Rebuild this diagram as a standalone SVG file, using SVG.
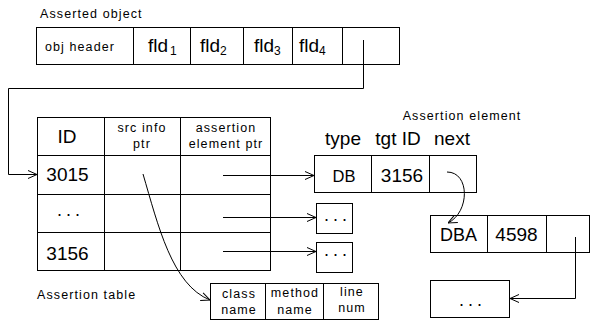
<svg xmlns="http://www.w3.org/2000/svg" width="590" height="324" viewBox="0 0 590 324">
<style>
.b{fill:#fff;stroke:#000;stroke-width:1}
.l{fill:none;stroke:#000;stroke-width:1}
.c{fill:none;stroke:#000;stroke-width:1;marker-end:url(#ah)}
text{font-family:"Liberation Sans",Arial,sans-serif;fill:#000}
.s{font-size:12.5px;letter-spacing:1.1px}
.m{font-size:19px}
.d{font-size:18px;letter-spacing:4px}
.t{text-anchor:middle}
</style>
<defs>
<marker id="ah" viewBox="0 0 10 10" refX="10" refY="5" markerWidth="10" markerHeight="10" markerUnits="userSpaceOnUse" orient="auto">
<polyline points="1,1 10,5 1,9" fill="none" stroke="#000" stroke-width="1"/>
</marker>
</defs>
<rect width="590" height="324" fill="#fff"/>

<g id="asserted-object">
<text x="40" y="18" class="s">Asserted object</text>
<rect class="b" x="36.5" y="27.5" width="363" height="37"/>
<line class="l" x1="133.5" y1="27.5" x2="133.5" y2="64.5"/>
<line class="l" x1="190.5" y1="27.5" x2="190.5" y2="64.5"/>
<line class="l" x1="243.5" y1="27.5" x2="243.5" y2="64.5"/>
<line class="l" x1="292.5" y1="27.5" x2="292.5" y2="64.5"/>
<line class="l" x1="342.5" y1="27.5" x2="342.5" y2="64.5"/>
<text x="80" y="51" class="s t">obj header</text>
<text x="148" y="52" class="m">fld<tspan font-size="12" dx="2" dy="2.5">1</tspan></text>
<text x="200" y="52" class="m">fld<tspan font-size="12" dy="2.5">2</tspan></text>
<text x="254" y="52" class="m">fld<tspan font-size="12" dy="2.5">3</tspan></text>
<text x="299" y="52" class="m">fld<tspan font-size="12" dy="2.5">4</tspan></text>
</g>

<g id="assertion-table">
<rect class="b" x="37.5" y="117.5" width="233" height="153"/>
<line class="l" x1="37.5" y1="155.5" x2="270.5" y2="155.5"/>
<line class="l" x1="37.5" y1="194.5" x2="270.5" y2="194.5"/>
<line class="l" x1="37.5" y1="232.5" x2="270.5" y2="232.5"/>
<line class="l" x1="104.5" y1="117.5" x2="104.5" y2="270.5"/>
<line class="l" x1="180.5" y1="117.5" x2="180.5" y2="270.5"/>
<text x="67" y="143" class="m t" font-size="20">ID</text>
<text x="142" y="132" class="s t">src info</text>
<text x="142" y="148" class="s t">ptr</text>
<text x="226" y="132" class="s t">assertion</text>
<text x="226" y="148" class="s t">element ptr</text>
<text x="67.5" y="181" class="m t">3015</text>
<text x="57" y="216" class="d">...</text>
<text x="67.5" y="260" class="m t">3156</text>
<text x="37" y="299" class="s">Assertion table</text>
</g>

<g id="assertion-element">
<text x="462" y="120" class="s t">Assertion element</text>
<text x="343" y="145" class="m t">type</text>
<text x="398" y="145" class="m t">tgt ID</text>
<text x="452" y="145" class="m t">next</text>
<rect class="b" x="314.5" y="155.5" width="162" height="37"/>
<line class="l" x1="371.5" y1="155.5" x2="371.5" y2="192.5"/>
<line class="l" x1="429.5" y1="155.5" x2="429.5" y2="192.5"/>
<text x="344" y="182" class="t" font-size="16.5">DB</text>
<text x="402" y="182" class="m t">3156</text>
</g>

<g id="dots-1">
<rect class="b" x="316.5" y="203.5" width="36" height="30"/>
<text x="324" y="221" class="d">...</text>
</g>

<g id="dots-2">
<rect class="b" x="316.5" y="242.5" width="36" height="30"/>
<text x="324" y="256" class="d">...</text>
</g>

<g id="src-info">
<rect class="b" x="210.5" y="283.5" width="168" height="36"/>
<line class="l" x1="265.5" y1="283.5" x2="265.5" y2="319.5"/>
<line class="l" x1="323.5" y1="283.5" x2="323.5" y2="319.5"/>
<text x="239" y="298" class="s t">class</text>
<text x="239" y="314" class="s t">name</text>
<text x="295" y="297" class="s t">method</text>
<text x="295" y="314" class="s t">name</text>
<text x="352" y="296" class="s t">line</text>
<text x="352" y="312" class="s t">num</text>
</g>

<g id="assertion-element-2">
<rect class="b" x="430.5" y="215.5" width="159" height="37"/>
<line class="l" x1="487.5" y1="215.5" x2="487.5" y2="252.5"/>
<line class="l" x1="546.5" y1="215.5" x2="546.5" y2="252.5"/>
<text x="458.5" y="241" class="t" font-size="18">DBA</text>
<text x="516.5" y="241" class="m t">4598</text>
</g>

<g id="dots-3">
<rect class="b" x="430.5" y="280.5" width="79" height="37"/>
<text x="459" y="306" class="d">...</text>
</g>

<g id="connectors">
<polyline class="c" points="363.5,40 363.5,88.5 8.5,88.5 8.5,174.5 37,174.5"/>
<line class="c" x1="223" y1="175.5" x2="314" y2="175.5"/>
<line class="c" x1="223" y1="217.5" x2="316" y2="217.5"/>
<line class="c" x1="223" y1="251.5" x2="316" y2="251.5"/>
<path class="c" d="M143,174 C158,225 172,285 210,300"/>
<path class="c" d="M447,172 C470,172 470,212 448,223"/>
<polyline class="c" points="575.5,237 575.5,298.5 510,298.5"/>
</g>
</svg>
